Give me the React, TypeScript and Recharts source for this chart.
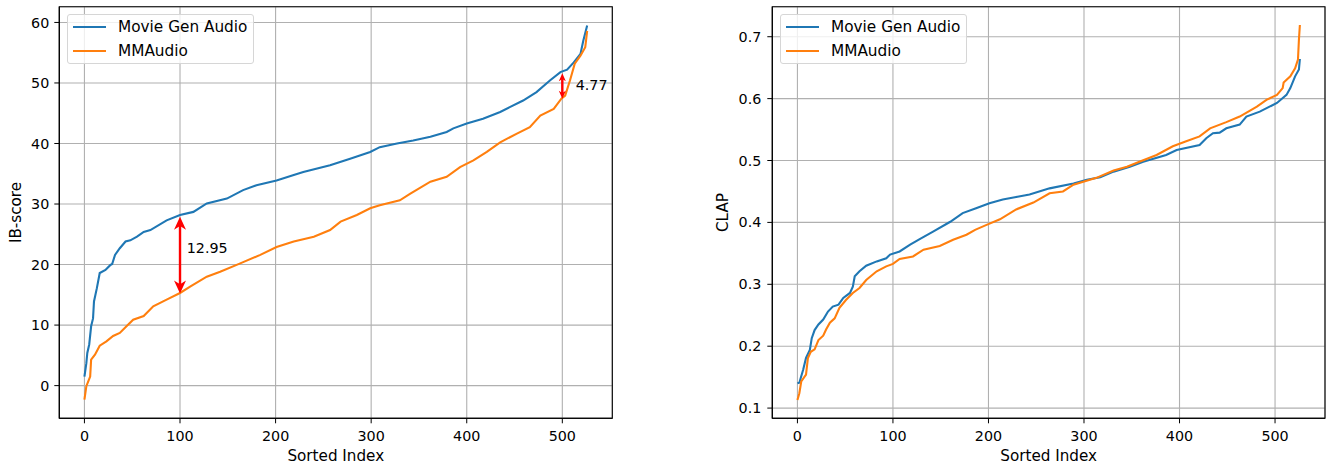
import React from 'react';
import { LineChart, Line, XAxis, YAxis, CartesianGrid, ReferenceLine, ReferenceDot, ReferenceArea } from 'recharts';

// sorted index positions + values
const IB_GEN_IDX = [0, 2, 3, 5, 7, 9, 10, 13, 16, 22, 27, 29, 32, 37, 43, 48, 55, 62, 69, 86, 100, 114, 128, 149, 166, 180, 201, 219, 229, 257, 278, 299, 309, 327, 344, 362, 379, 386, 400, 417, 435, 445, 459, 473, 487, 498, 505, 512, 519, 522, 526];
const IB_GEN = [1.5, 3.7, 5.4, 6.8, 9.8, 11.1, 13.9, 16.1, 18.6, 19.1, 19.9, 20.1, 21.6, 22.7, 23.8, 24.0, 24.6, 25.4, 25.7, 27.3, 28.2, 28.7, 30.1, 30.9, 32.3, 33.1, 33.9, 34.8, 35.3, 36.4, 37.5, 38.6, 39.4, 40.0, 40.5, 41.1, 41.9, 42.5, 43.3, 44.1, 45.2, 46.0, 47.1, 48.5, 50.4, 51.8, 52.2, 53.4, 54.8, 57.0, 59.5];

const IB_MM_IDX = [0, 2, 4, 6, 7, 11, 16, 23, 30, 37, 44, 51, 62, 72, 86, 100, 111, 128, 142, 163, 184, 201, 219, 240, 257, 268, 285, 299, 309, 330, 341, 362, 379, 393, 407, 421, 435, 452, 466, 477, 491, 499, 503, 508, 513, 519, 524, 526];
const IB_MM = [-2.3, -0.1, 0.7, 1.5, 4.3, 5.1, 6.6, 7.3, 8.2, 8.7, 9.8, 10.9, 11.5, 13.1, 14.2, 15.3, 16.4, 18.0, 18.8, 20.2, 21.6, 22.9, 23.8, 24.6, 25.7, 27.1, 28.2, 29.3, 29.8, 30.6, 31.7, 33.7, 34.5, 36.1, 37.2, 38.6, 40.2, 41.6, 42.7, 44.6, 45.7, 47.4, 47.9, 50.4, 53.2, 54.5, 55.9, 58.6];

const CLAP_GEN_IDX = [0, 2, 6, 9, 13, 15, 18, 22, 27, 32, 37, 43, 48, 55, 58, 60, 65, 72, 83, 93, 97, 107, 118, 128, 142, 160, 173, 187, 201, 215, 229, 243, 264, 289, 303, 317, 331, 348, 362, 386, 397, 421, 428, 435, 442, 449, 463, 470, 484, 502, 512, 516, 521, 525, 526];
const CLAP_GEN = [0.140, 0.141, 0.162, 0.181, 0.194, 0.213, 0.226, 0.235, 0.243, 0.256, 0.264, 0.267, 0.278, 0.286, 0.296, 0.313, 0.321, 0.330, 0.337, 0.342, 0.348, 0.353, 0.364, 0.373, 0.385, 0.401, 0.415, 0.423, 0.431, 0.437, 0.441, 0.445, 0.455, 0.463, 0.469, 0.473, 0.482, 0.490, 0.498, 0.509, 0.517, 0.525, 0.536, 0.544, 0.545, 0.552, 0.558, 0.571, 0.579, 0.593, 0.606, 0.617, 0.636, 0.647, 0.664];

const CLAP_MM_IDX = [0, 2, 4, 9, 11, 14, 18, 22, 27, 30, 34, 39, 44, 51, 58, 65, 72, 83, 93, 100, 107, 121, 132, 149, 163, 177, 186, 198, 212, 229, 247, 264, 278, 289, 313, 331, 345, 358, 376, 393, 407, 421, 432, 449, 463, 481, 491, 502, 508, 509, 516, 521, 524, 525, 526];
const CLAP_MM = [0.113, 0.124, 0.143, 0.154, 0.181, 0.191, 0.195, 0.210, 0.217, 0.227, 0.238, 0.245, 0.262, 0.275, 0.286, 0.294, 0.307, 0.321, 0.329, 0.333, 0.341, 0.345, 0.356, 0.362, 0.372, 0.380, 0.388, 0.396, 0.405, 0.421, 0.432, 0.447, 0.450, 0.461, 0.472, 0.484, 0.490, 0.498, 0.509, 0.523, 0.531, 0.539, 0.552, 0.562, 0.571, 0.587, 0.598, 0.606, 0.617, 0.626, 0.636, 0.649, 0.663, 0.695, 0.719];

const X_TICKS = [0, 100, 200, 300, 400, 500];
const IB_TICKS = [0, 10, 20, 30, 40, 50, 60];
const CLAP_TICKS = [0.1, 0.2, 0.3, 0.4, 0.5, 0.6, 0.7];

const X_DOMAIN: [number, number] = [-26.3, 552.3];
const IB_DOMAIN: [number, number] = [-5.4, 62.6];
const CLAP_DOMAIN: [number, number] = [0.0835, 0.7485];

const SERIES_NAMES = ['Movie Gen Audio', 'MMAudio'];

// gap annotations on the IB-score panel
const IB_GAPS = [
  { x: 100, top: 27.9, bottom: 15.2, text: '12.95', tx: 107, ty: 22.7, head: 13, half: 6 },
  { x: 500, top: 51.6, bottom: 47.4, text: '4.77', tx: 514, ty: 49.6, head: 8, half: 3.5 },
];

const BLUE = '#1f77b4';
const ORANGE = '#ff7f0e';
const COLORS = [BLUE, ORANGE];
const FONT = '"DejaVu Sans", sans-serif';

const toPoints = (xs: number[], ys: number[]) => xs.map((x, i) => ({ x, y: ys[i] }));

const makeArrow = (head: number, half: number) => (p: any) => {
  const { x1, y1, x2, y2 } = p;
  const x = x1;
  const top = Math.min(y1, y2);
  const bot = Math.max(y1, y2);
  return (
    <g>
      <line x1={x} y1={top + head * 0.6} x2={x} y2={bot - head * 0.6} stroke="red" strokeWidth={2.4} />
      <polygon points={`${x},${top} ${x - half},${top + head} ${x},${top + head * 0.72} ${x + half},${top + head}`} fill="red" />
      <polygon points={`${x},${bot} ${x - half},${bot - head} ${x},${bot - head * 0.72} ${x + half},${bot - head}`} fill="red" />
    </g>
  );
};

const GapLabel = (text: string) => (p: any) => (
  <text x={p.cx} y={p.cy} dominantBaseline="central" fontSize={14.3} fontFamily={FONT} fill="#000">{text}</text>
);

const LegendBox = ({ left, top }: { left: number; top: number }) => (
  <div style={{ position: 'absolute', left, top, width: 187, height: 50, boxSizing: 'border-box', border: '1px solid #d6d6d6', borderRadius: 3, background: 'rgba(255,255,255,0.8)', fontFamily: FONT }}>
    {SERIES_NAMES.map((name, i) => (
      <div key={name} style={{ position: 'absolute', left: 0, top: 12.4 + i * 23.3 - 10, height: 20, width: '100%' }}>
        <div style={{ position: 'absolute', left: 5, top: 9, width: 33, height: 2.1, background: COLORS[i] }} />
        <div style={{ position: 'absolute', left: 50, top: 0, lineHeight: '20px', fontSize: 15.3, color: '#000', whiteSpace: 'nowrap' }}>{name}</div>
      </div>
    ))}
  </div>
);

const tickStyle = { fontSize: 14.3, fill: '#000', fontFamily: FONT };

export default function App() {
  const ibGen = toPoints(IB_GEN_IDX, IB_GEN);
  const ibMm = toPoints(IB_MM_IDX, IB_MM);
  const clapGen = toPoints(CLAP_GEN_IDX, CLAP_GEN);
  const clapMm = toPoints(CLAP_MM_IDX, CLAP_MM);

  return (
    <div style={{ position: 'absolute', left: 0, top: 0, width: 1327, height: 466, background: '#fff', fontFamily: FONT }}>
      <div style={{ position: 'absolute', left: 0, top: 0 }}>
        <LineChart width={640} height={466} margin={{ top: 6.7, right: 27.7, bottom: 17.7, left: 0 }}>
          <CartesianGrid stroke="#b0b0b0" strokeWidth={1.1} />
          <XAxis type="number" dataKey="x" domain={X_DOMAIN} ticks={X_TICKS} allowDataOverflow height={30}
            tick={tickStyle} tickSize={5} tickMargin={8} stroke="#000" interval={0} />
          <YAxis type="number" domain={IB_DOMAIN} ticks={IB_TICKS} allowDataOverflow width={59.3}
            tick={tickStyle} tickSize={5} tickMargin={5} stroke="#000" interval={0} />
          <Line data={ibGen} dataKey="y" name={SERIES_NAMES[0]} stroke={BLUE} strokeWidth={2.1} dot={false} isAnimationActive={false} />
          <Line data={ibMm} dataKey="y" name={SERIES_NAMES[1]} stroke={ORANGE} strokeWidth={2.1} dot={false} isAnimationActive={false} />
          {IB_GAPS.map((g) => (
            <ReferenceLine key={g.text} segment={[{ x: g.x, y: g.top }, { x: g.x, y: g.bottom }]} shape={makeArrow(g.head, g.half)} />
          ))}
          {IB_GAPS.map((g) => (
            <ReferenceDot key={'t' + g.text} x={g.tx} y={g.ty} shape={GapLabel(g.text)} />
          ))}
          <ReferenceArea x1={X_DOMAIN[0]} x2={X_DOMAIN[1]} y1={IB_DOMAIN[0]} y2={IB_DOMAIN[1]} fill="none" fillOpacity={0} stroke="#000" strokeWidth={1.1} />
        </LineChart>
        <LegendBox left={67} top={14} />
      </div>

      <div style={{ position: 'absolute', left: 700, top: 0 }}>
        <LineChart width={627} height={466} margin={{ top: 6.7, right: 2, bottom: 17.7, left: 0 }}>
          <CartesianGrid stroke="#b0b0b0" strokeWidth={1.1} />
          <XAxis type="number" dataKey="x" domain={X_DOMAIN} ticks={X_TICKS} allowDataOverflow height={30}
            tick={tickStyle} tickSize={5} tickMargin={8} stroke="#000" interval={0} />
          <YAxis type="number" domain={CLAP_DOMAIN} ticks={CLAP_TICKS} allowDataOverflow width={72.3}
            tick={tickStyle} tickSize={5} tickMargin={6} stroke="#000" interval={0} />
          <Line data={clapGen} dataKey="y" name={SERIES_NAMES[0]} stroke={BLUE} strokeWidth={2.1} dot={false} isAnimationActive={false} />
          <Line data={clapMm} dataKey="y" name={SERIES_NAMES[1]} stroke={ORANGE} strokeWidth={2.1} dot={false} isAnimationActive={false} />
          <ReferenceArea x1={X_DOMAIN[0]} x2={X_DOMAIN[1]} y1={CLAP_DOMAIN[0]} y2={CLAP_DOMAIN[1]} fill="none" fillOpacity={0} stroke="#000" strokeWidth={1.1} />
        </LineChart>
        <LegendBox left={80} top={14} />
      </div>

      <svg width={1327} height={466} style={{ position: 'absolute', left: 0, top: 0, pointerEvents: 'none' }}>
        <text x={335.8} y={461} textAnchor="middle" fontSize={15.2} fontFamily={FONT} fill="#000">Sorted Index</text>
        <text x={1048.7} y={461} textAnchor="middle" fontSize={15.2} fontFamily={FONT} fill="#000">Sorted Index</text>
        <text transform="translate(20.5,212.5) rotate(-90)" textAnchor="middle" fontSize={15.2} fontFamily={FONT} fill="#000">IB-score</text>
        <text transform="translate(727.5,212.5) rotate(-90)" textAnchor="middle" fontSize={15.2} fontFamily={FONT} fill="#000">CLAP</text>
      </svg>
    </div>
  );
}
